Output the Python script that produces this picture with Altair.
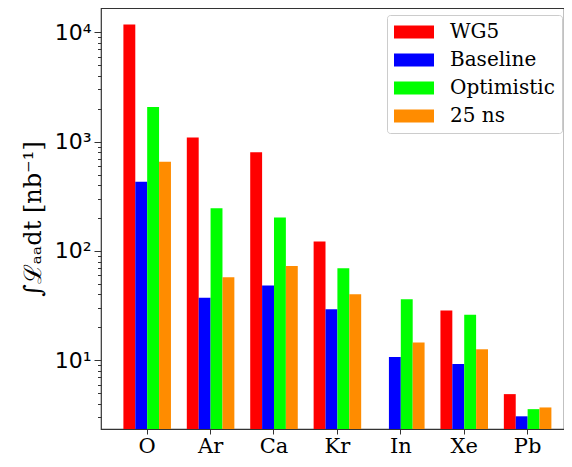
import altair as alt
import pandas as pd

categories = ["O", "Ar", "Ca", "Kr", "In", "Xe", "Pb"]
series = ["WG5", "Baseline", "Optimistic", "25 ns"]
colors = ["#ff0000", "#0000ff", "#00ff00", "#ff8c00"]

wg5 = [11800, 1090, 800, 122, None, 28.5, 4.9]
baseline = [430, 37.4, 48.2, 29.3, 10.7, 9.25, 3.07]
optimistic = [2070, 246, 202, 69.5, 36.1, 26.1, 3.57]
ns25 = [656, 57.4, 73, 40.2, 14.5, 12.6, 3.7]

y_min, y_max = 2.35, 16700

rows = []
for s, vals in zip(series, [wg5, baseline, optimistic, ns25]):
    for c, v in zip(categories, vals):
        if v is not None:
            rows.append({"ion": c, "series": s, "value": float(v)})
df = pd.DataFrame(rows)

tick_vals = [m * 10 ** e for e in range(0, 4) for m in range(1, 10)] + [10000]
tick_vals = [t for t in tick_vals if t >= 3]

is_major = "abs(round(log(datum.value)/LN10) - log(datum.value)/LN10) < 1e-6"
sup = "['\u2070','\u00b9','\u00b2','\u00b3','\u2074','\u2075']"

chart = alt.Chart(df).mark_bar().encode(
    x=alt.X("ion:N", sort=categories,
            scale=alt.Scale(paddingInner=0.25, paddingOuter=0.276, align=0.64),
            axis=alt.Axis(title=None, labelAngle=0, labelFont="DejaVu Serif",
                          labelFontSize=21, labelColor="#000", tickSize=5,
                          tickColor="#333", labelPadding=1, domain=False)),
    xOffset=alt.XOffset("series:N", sort=series,
                        scale=alt.Scale(paddingInner=0, paddingOuter=0)),
    y=alt.Y("value:Q", stack=None,
            scale=alt.Scale(type="log", domain=[y_min, y_max], nice=False),
            axis=alt.Axis(title="\u222b\u2112\u2090\u2090dt  [nb\u207b\u00b9]",
                          titleFont="DejaVu Serif", titleFontSize=24,
                          titleFontWeight="normal", titleColor="#000",
                          titlePadding=9,
                          values=tick_vals, grid=False, domain=False,
                          labelFont="DejaVu Sans", labelFontSize=22,
                          labelColor="#000", labelPadding=3,
                          tickColor="#333",
                          tickSize={"expr": f"{is_major} ? 7 : 3.5"},
                          labelExpr=f"{is_major} ? '10' + {sup}[round(log(datum.value)/LN10)] : ''")),
    y2=alt.datum(y_min),
    color=alt.Color("series:N", sort=series,
                    scale=alt.Scale(domain=series, range=colors),
                    legend=alt.Legend(title=None, orient="none", legendX=286, legendY=7,
                                      symbolType="M-2,-0.65H2V0.65H-2Z",
                                      symbolSize=400, symbolStrokeWidth=0,
                                      symbolOffset=10,
                                      labelFont="DejaVu Serif", labelFontSize=20,
                                      labelColor="#000", labelOffset=26,
                                      rowPadding=8, padding=7,
                                      fillColor="white", strokeColor="#cccccc",
                                      cornerRadius=3)),
).properties(
    width=463, height=421,
    autosize=alt.AutoSizeParams(type="none"),
    padding={"left": 93, "top": 0, "right": 0, "bottom": 30},
).configure_view(stroke="#333333", strokeWidth=1.2)

chart.save("out.html", embed_options={"renderer": "svg", "actions": False})
